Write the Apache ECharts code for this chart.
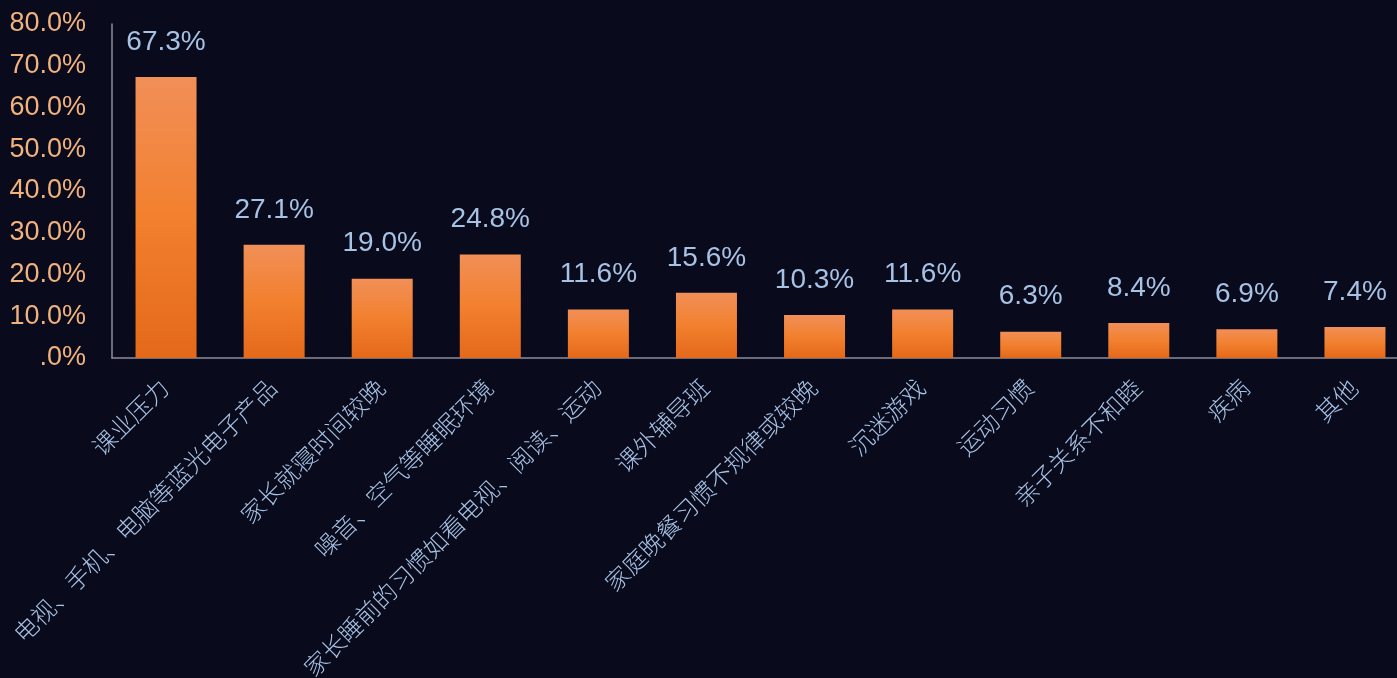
<!DOCTYPE html>
<html>
<head>
<meta charset="utf-8">
<script src="https://cdn.jsdelivr.net/npm/echarts@6/dist/echarts.min.js"></script>
<style>
  html, body { margin: 0; padding: 0; background: #090a1c; }
  #chart { width: 1397px; height: 678px; }
</style>
</head>
<body>
<div id="chart"></div>
<script>
// Reasons for children's late bedtime (share of respondents, %)
const categories = [
  '课业压力',
  '电视、手机、电脑等蓝光电子产品',
  '家长就寝时间较晚',
  '噪音、空气等睡眠环境',
  '家长睡前的习惯如看电视、阅读、运动',
  '课外辅导班',
  '家庭晚餐习惯不规律或较晚',
  '沉迷游戏',
  '运动习惯',
  '亲子关系不和睦',
  '疾病',
  '其他'
];
const shares = [67.3, 27.1, 19.0, 24.8, 11.6, 15.6, 10.3, 11.6, 6.3, 8.4, 6.9, 7.4];
const yTicks = [0, 10, 20, 30, 40, 50, 60, 70, 80];

const fmtPct = v => (v === 0 ? '.0%' : v.toFixed(1) + '%');
const fontFamily = '"Liberation Sans", "Noto Sans CJK SC", sans-serif';

const chart = echarts.init(document.getElementById('chart'));
chart.setOption({
  backgroundColor: '#090a1c',
  animation: false,
  grid: { left: 112, right: -12, top: 24, bottom: 320, outerBoundsMode: 'none', containLabel: false },
  xAxis: {
    type: 'category',
    data: categories,
    axisLine: { lineStyle: { color: '#8c8c98', width: 1.5 } },
    axisTick: { show: false },
    axisLabel: {
      rotate: 45,
      interval: 0,
      margin: 27,
      color: '#a6c2e4',
      fontSize: 24,
      fontWeight: 300,
      fontFamily: fontFamily
    }
  },
  yAxis: {
    type: 'value',
    min: yTicks[0],
    max: yTicks[yTicks.length - 1],
    interval: 10,
    splitLine: { show: false },
    axisTick: { show: false },
    axisLine: { show: true, lineStyle: { color: '#8c8c98', width: 1.5 } },
    axisLabel: {
      color: '#f2b27e',
      fontSize: 27,
      margin: 26,
      padding: [12, 0, 0, 0],
      fontFamily: fontFamily,
      formatter: fmtPct
    }
  },
  series: [{
    type: 'bar',
    data: shares,
    barWidth: 61,
    itemStyle: {
      color: new echarts.graphic.LinearGradient(0, 0, 0, 1, [
        { offset: 0, color: '#f18f58' },
        { offset: 0.5, color: '#f2802e' },
        { offset: 1, color: '#e4691a' }
      ])
    },
    label: {
      show: true,
      position: 'top',
      distance: 21,
      color: '#a6c2e4',
      fontSize: 28,
      fontFamily: fontFamily,
      formatter: p => p.value.toFixed(1) + '%'
    }
  }]
});
</script>
</body>
</html>
